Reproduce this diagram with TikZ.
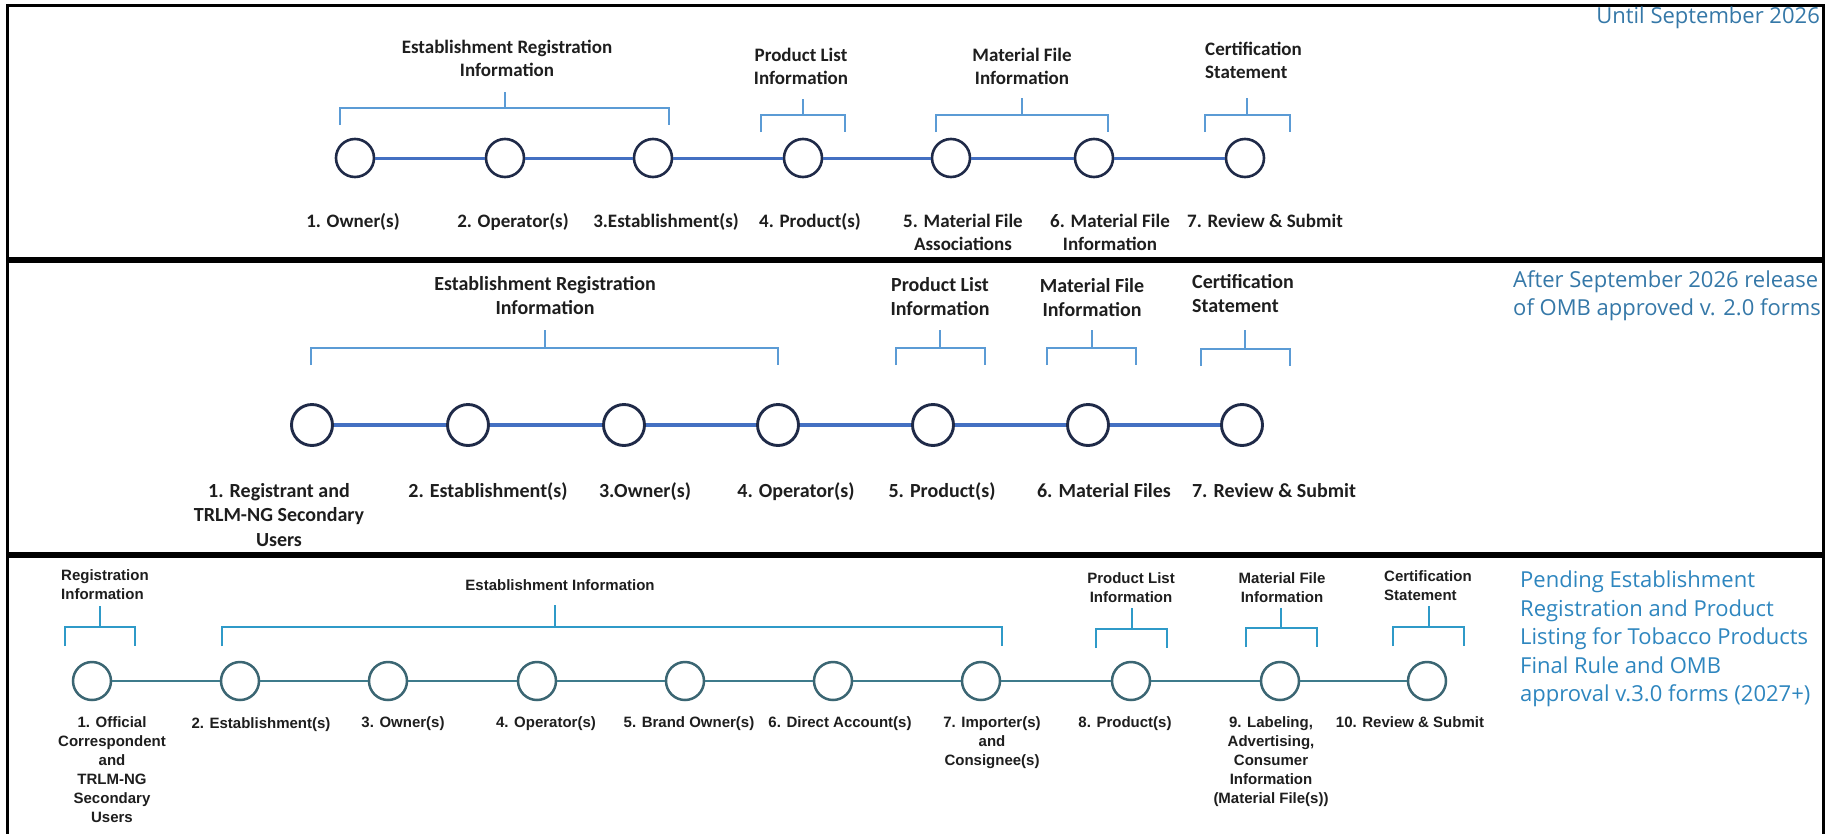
\documentclass[tikz,border=0pt]{standalone}
\usepackage{fontspec}
\setmainfont{Carlito}
\newfontfamily\stepfont{Liberation Sans}
\newfontfamily\notefont{Open Sans}

\definecolor{ink}{HTML}{1E1E1E}
\definecolor{navy}{HTML}{1F2A48}
\definecolor{linkblue}{HTML}{4470C2}
\definecolor{brblue}{HTML}{5B9BD5}
\definecolor{tealring}{HTML}{3B6673}
\definecolor{teallink}{HTML}{3E7B8B}
\definecolor{cyanbr}{HTML}{2F9AC8}
\definecolor{noteblue}{HTML}{3578A8}
\definecolor{notecyan}{HTML}{2E86BF}

% bracket: left x, right x, stem x, bar y, foot y, stem top y
\newcommand\grpbrace[7][brk]{%
  \draw[#1] (#2,#6) -- (#2,#5) -- (#3,#5) -- (#3,#6);
  \draw[#1] (#4,#5) -- (#4,#7);
}

% multi-line nodes are placed by the baseline of their last line
\begin{document}
\begin{tikzpicture}[x=1pt,y=-1pt,
  frame/.style={draw=black, line width=3pt},
  ringone/.style={circle, draw=navy, line width=2.6pt, fill=white, minimum size=38pt, inner sep=0pt},
  ringtwo/.style={ringone, line width=2.9pt, minimum size=41pt},
  ringthree/.style={circle, draw=tealring, line width=2.5pt, fill=white, minimum size=38pt, inner sep=0pt},
  linkone/.style={draw=linkblue, line width=3pt},
  linktwo/.style={draw=linkblue, line width=3.6pt},
  linkthree/.style={draw=teallink, line width=2.5pt},
  brk/.style={draw=brblue, line width=2pt},
  brkthree/.style={draw=cyanbr, line width=2.5pt},
  lblone/.style={font=\bfseries\fontsize{19}{23}\selectfont, text=ink, align=center, inner sep=0pt, anchor=base},
  lbltwo/.style={font=\bfseries\fontsize{20}{24.5}\selectfont, text=ink, align=center, inner sep=0pt, anchor=base},
  lblthree/.style={font=\stepfont\bfseries\fontsize{15}{19}\selectfont, text=ink, align=center, inner sep=0pt, anchor=base},
  noteone/.style={font=\notefont\fontsize{22}{28}\selectfont, text=noteblue, inner sep=0pt},
  notethree/.style={font=\notefont\fontsize{22}{28.5}\selectfont, text=notecyan, align=left, inner sep=0pt, anchor=base west},
]
\useasboundingbox (0,0) rectangle (1834,833);
\fill[white] (0,0) rectangle (1834,833);

% ---------- panel frames ----------
\draw[frame] (7,5) rectangle (1823,258);
\draw[frame] (7,261) rectangle (1823,553);
\draw[frame] (7,840) -- (7,556) -- (1823,556) -- (1823,840);

% ---------- panel 1: until September 2026 ----------
\node[noteone, anchor=base east] (n1) at (1820,23.5) {Until September 2026};

\foreach \i/\x in {1/355,2/505,3/653,4/803,5/951,6/1094,7/1245}
  \node[ringone] (a\i) at (\x,158) {};
\draw[linkone] (a1) -- (a2) -- (a3) -- (a4) -- (a5) -- (a6) -- (a7);

\grpbrace{340}{669}{505}{108}{125}{92}
\grpbrace{761}{845}{803}{115}{132}{99}
\grpbrace{936}{1108}{1022}{115}{132}{98}
\grpbrace{1205}{1290}{1247}{115}{132}{98}

\node[lblone] (ag1) at (507,76.5) {Establishment Registration\\Information};
\node[lblone] (ag2) at (801,84.5) {Product List\\Information};
\node[lblone] (ag3) at (1022,84.5) {Material File\\Information};
\node[lblone, anchor=base west, align=left] (ag4) at (1205,78.5) {Certification\\Statement};

\node[lblone] (at1) at (353,227.5) {1. Owner(s)};
\node[lblone] (at2) at (513,227.5) {2. Operator(s)};
\node[lblone] (at3) at (666,227.5) {3.Establishment(s)};
\node[lblone] (at4) at (810,227.5) {4. Product(s)};
\node[lblone] (at5) at (963,250.5) {5. Material File\\Associations};
\node[lblone] (at6) at (1110,250.5) {6. Material File\\Information};
\node[lblone] (at7) at (1265,227.5) {7. Review \& Submit};

% ---------- panel 2: v. 2.0 forms ----------
\node[noteone, anchor=base west, align=left] (n2) at (1513,315.5)
  {After September 2026 release\\of OMB approved v. 2.0 forms};

\foreach \i/\x in {1/312,2/468,3/624,4/778,5/933,6/1088,7/1242}
  \node[ringtwo] (b\i) at (\x,425) {};
\draw[linktwo] (b1) -- (b2) -- (b3) -- (b4) -- (b5) -- (b6) -- (b7);

\grpbrace{311}{778}{545}{348}{365}{330}
\grpbrace{896}{985}{940}{348}{365}{330}
\grpbrace{1047}{1136}{1092}{348}{365}{330}
\grpbrace{1201}{1290}{1245}{349}{366}{330}

\node[lbltwo] (bg1) at (545,314.5) {Establishment Registration\\Information};
\node[lbltwo] (bg2) at (940,315.5) {Product List\\Information};
\node[lbltwo] (bg3) at (1092,316.5) {Material File\\Information};
\node[lbltwo, anchor=base west, align=left] (bg4) at (1192,312.5) {Certification\\Statement};

\node[lbltwo] (bt1) at (279,546) {1. Registrant and\\TRLM-NG Secondary\\Users};
\node[lbltwo] (bt2) at (488,497) {2. Establishment(s)};
\node[lbltwo] (bt3) at (645,497) {3.Owner(s)};
\node[lbltwo] (bt4) at (796,497) {4. Operator(s)};
\node[lbltwo] (bt5) at (942,497) {5. Product(s)};
\node[lbltwo] (bt6) at (1104,497) {6. Material Files};
\node[lbltwo] (bt7) at (1274,497) {7. Review \& Submit};

% ---------- panel 3: v.3.0 forms ----------
\node[notethree] (n3) at (1520,701.5)
  {Pending Establishment\\Registration and Product\\Listing for Tobacco Products\\Final Rule and OMB\\approval v.3.0 forms (2027+)};

\foreach \i/\x in {1/92,2/240,3/388,4/537,5/685,6/833,7/981,8/1131,9/1280,10/1427}
  \node[ringthree] (c\i) at (\x,681) {};
\draw[linkthree] (c1) -- (c2) -- (c3) -- (c4) -- (c5) -- (c6) -- (c7) -- (c8) -- (c9) -- (c10);

\grpbrace[brkthree]{65}{135}{100}{627}{646}{606}
\grpbrace[brkthree]{222}{1002}{555}{627}{646}{605}
\grpbrace[brkthree]{1096}{1167}{1132}{629}{648}{608}
\grpbrace[brkthree]{1246}{1317}{1281}{628}{647}{608}
\grpbrace[brkthree]{1393}{1464}{1429}{627}{646}{606}

\node[lblthree, anchor=base west, align=left] (cg1) at (61,599) {Registration\\Information};
\node[lblthree] (cg2) at (560,590) {Establishment Information};
\node[lblthree] (cg3) at (1131,602) {Product List\\Information};
\node[lblthree] (cg4) at (1282,602) {Material File\\Information};
\node[lblthree, anchor=base west, align=left] (cg5) at (1384,600) {Certification\\Statement};

\node[lblthree] (ct1) at (112,822) {1. Official\\Correspondent\\and\\TRLM-NG\\Secondary\\Users};
\node[lblthree] (ct2) at (261,728) {2. Establishment(s)};
\node[lblthree] (ct3) at (403,727) {3. Owner(s)};
\node[lblthree] (ct4) at (546,727) {4. Operator(s)};
\node[lblthree] (ct5) at (689,727) {5. Brand Owner(s)};
\node[lblthree] (ct6) at (840,727) {6. Direct Account(s)};
\node[lblthree] (ct7) at (992,765) {7. Importer(s)\\and\\Consignee(s)};
\node[lblthree] (ct8) at (1125,727) {8. Product(s)};
\node[lblthree] (ct9) at (1271,803) {9. Labeling,\\Advertising,\\Consumer\\Information\\(Material File(s))};
\node[lblthree] (ct10) at (1410,727) {10. Review \& Submit};
\end{tikzpicture}
\end{document}
